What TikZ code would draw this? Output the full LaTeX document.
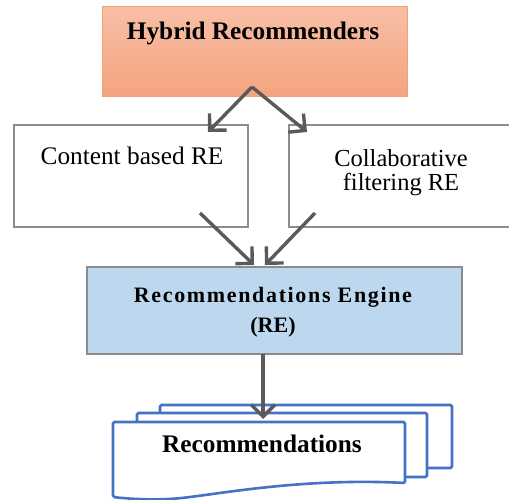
\documentclass[tikz,border=0pt]{standalone}
\usepackage{fontspec}
\setmainfont{Liberation Serif}
\usetikzlibrary{arrows.meta}
\definecolor{orangeTop}{HTML}{F7BFA6}
\definecolor{orangeBot}{HTML}{F4A47F}
\definecolor{orangeLine}{HTML}{F4A070}
\definecolor{boxLine}{HTML}{8C8C8C}
\definecolor{arrowGray}{HTML}{5A5A5A}
\definecolor{reBlue}{HTML}{BDD7EE}
\definecolor{docBlue}{HTML}{4472C4}
\tikzset{
  flowarrow/.style={draw=arrowGray, line width=3.4pt, -{Straight Barb[length=12pt,width=24pt]}},
  plainbox/.style={draw=boxLine, line width=1.5pt, fill=white},
  doc/.style={draw=docBlue, line width=2.6pt, fill=white, rounded corners=1.5pt},
  lbl/.style={anchor=base, inner sep=0pt, text=black}
}
\begin{document}
\begin{tikzpicture}[x=1pt,y=-1pt]
\useasboundingbox (0,0) rectangle (509,500);
% top box
\shade[top color=orangeTop, bottom color=orangeBot] (102,7) rectangle (407,97);
\draw[orangeLine, line width=1pt] (102,7) rectangle (407,97);
\node[lbl, font=\fontsize{25.3}{25.3}\selectfont\bfseries] (hyb) at (253,40) {Hybrid Recommenders};
% middle boxes
\draw[plainbox] (14,125) rectangle (248,227);
\draw[plainbox] (515,125) -- (289,125) -- (289,227) -- (515,227);
\node[lbl, font=\fontsize{25.3}{25.3}\selectfont] (cb) at (132,165) {Content based RE};
\node[lbl, font=\fontsize{24.5}{24.5}\selectfont] (cf1) at (401,167) {Collaborative};
\node[lbl, font=\fontsize{24.5}{24.5}\selectfont] (cf2) at (401,190) {filtering RE};
% RE box
\draw[boxLine, line width=1.5pt, fill=reBlue] (87,267) rectangle (462,354);
\node[lbl, font=\fontsize{22}{22}\selectfont\bfseries\addfontfeature{LetterSpace=7.5}] (re1) at (273,302) {Recommendations Engine};
\node[lbl, font=\fontsize{22}{22}\selectfont\bfseries] (re2) at (273,332) {(RE)};
% documents
\draw[doc] (160,468) -- (160,405) -- (452,405) -- (452,468) -- cycle;
\draw[doc] (137,477) -- (137,413) -- (427,413) -- (427,477) -- cycle;
\draw[doc] (113,497) -- (113,422) -- (405,422) -- (405,483)
  .. controls (310,478) and (230,492) .. (190,497)
  .. controls (160,501) and (130,499) .. (113,497) -- cycle;
\node[lbl, font=\fontsize{25.3}{25.3}\selectfont\bfseries] (rec) at (262,452) {Recommendations};
% arrows
\coordinate (apex) at (252,87);
\coordinate (cbin) at (208,132);
\coordinate (cfin) at (307,132);
\coordinate (cbout) at (200,213);
\coordinate (cfout) at (315,213);
\coordinate (rein1) at (254,265);
\coordinate (rein2) at (265,265);
\coordinate (reout) at (263,354);
\coordinate (recin) at (263,419);
\draw[flowarrow] (apex) -- (cbin);
\draw[flowarrow] (apex) -- (cfin);
\draw[flowarrow] (cbout) -- (rein1);
\draw[flowarrow] (cfout) -- (rein2);
\draw[flowarrow] (reout) -- (recin);
\end{tikzpicture}
\end{document}
